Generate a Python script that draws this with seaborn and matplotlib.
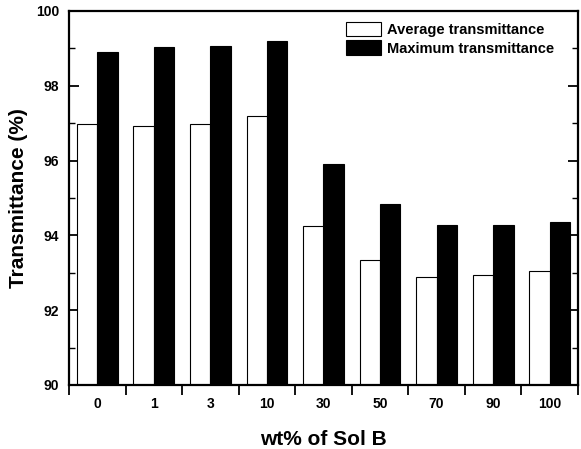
import matplotlib
matplotlib.use("Agg")
import matplotlib.pyplot as plt
import seaborn as sns
import pandas as pd
from matplotlib.ticker import MultipleLocator, FixedLocator

categories = ["0", "1", "3", "10", "30", "50", "70", "90", "100"]
average = [96.97, 96.93, 96.99, 97.18, 94.26, 93.34, 92.90, 92.95, 93.05]
maximum = [98.90, 99.05, 99.06, 99.19, 95.91, 94.84, 94.29, 94.29, 94.37]
series_names = ["Average transmittance", "Maximum transmittance"]

sns.set_theme(style="ticks")
plt.rcParams["font.family"] = ["Liberation Sans", "DejaVu Sans"]
plt.rcParams["font.weight"] = "bold"
plt.rcParams["text.color"] = "black"
plt.rcParams["axes.labelcolor"] = "black"
plt.rcParams["xtick.color"] = "black"
plt.rcParams["ytick.color"] = "black"

df = pd.DataFrame({
    "wt": categories * 2,
    "T": average + maximum,
    "series": [series_names[0]] * len(categories) + [series_names[1]] * len(categories),
})

fig = plt.figure(figsize=(5.81, 4.49), dpi=100)
ax = fig.add_axes([69/581, 1-385/449, 509/581, 374/449])

sns.barplot(data=df, x="wt", y="T", hue="series", order=categories,
            hue_order=series_names, palette=["white", "black"],
            edgecolor="black", linewidth=0.8, width=0.72, ax=ax,
            errorbar=None, saturation=1)

ax.set_ylim(90, 100)
ax.set_xlim(-0.5, len(categories) - 0.5)

for s in ax.spines.values():
    s.set_visible(True)
    s.set_linewidth(1.6)
    s.set_color("black")

ax.yaxis.set_major_locator(MultipleLocator(2))
ax.yaxis.set_minor_locator(MultipleLocator(1))
ax.tick_params(axis="y", which="major", direction="in", length=7, width=1.3,
               right=True, labelsize=10, pad=7, colors="black")
ax.tick_params(axis="y", which="minor", direction="in", length=4, width=1.0,
               right=True, colors="black")

ax.xaxis.set_minor_locator(FixedLocator([i - 0.5 for i in range(len(categories) + 1)]))
ax.tick_params(axis="x", which="major", length=0, labelsize=10, pad=9, colors="black")
ax.tick_params(axis="x", which="minor", direction="out", length=7, width=1.3,
               colors="black", top=False)
for lbl in ax.get_xticklabels() + ax.get_yticklabels():
    lbl.set_fontweight("bold")

ax.set_xlabel("wt% of Sol B", fontsize=15, fontweight="bold", labelpad=13, color="black")
ax.set_ylabel("Transmittance (%)", fontsize=15, fontweight="bold", labelpad=6, color="black")

leg = ax.legend(loc="upper left", bbox_to_anchor=((346-69)/509, 1-(22-11)/374),
                frameon=False, borderaxespad=0, borderpad=0,
                handlelength=2.4, handleheight=1.15, handletextpad=0.4,
                labelspacing=0.22, prop={"size": 10.5, "weight": "bold"})
for t in leg.get_texts():
    t.set_color("black")
for h in leg.legend_handles:
    h.set_edgecolor("black")
    h.set_linewidth(0.8)

fig.savefig("out.png", dpi=100)
